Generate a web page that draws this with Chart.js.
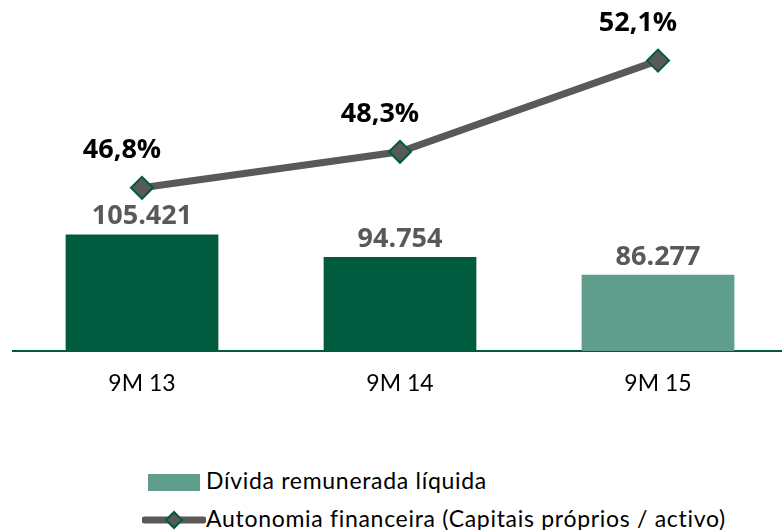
<!DOCTYPE html>
<html>
<head>
<meta charset="utf-8">
<script src="https://cdn.jsdelivr.net/npm/chart.js@4/dist/chart.umd.min.js"></script>
<style>
  html, body { margin: 0; padding: 0; background: #fff; overflow: hidden; }
  #wrap { position: relative; width: 782px; height: 530px; overflow: hidden; }
  #box { position: absolute; left: 0; top: 0; width: 800px; height: 405px; }
  .leg { position: absolute; font-family: Lato, "Liberation Sans", sans-serif; font-size: 23px; color: #000; letter-spacing: 0.7px; white-space: nowrap; }
</style>
</head>
<body>
<div id="wrap">
  <div id="box"><canvas id="chart"></canvas></div>
  <div class="leg" style="left:148px; top:466px;">
    <span style="display:inline-block; width:52px; height:17px; background:#5f9e8c; vertical-align:-2px;"></span><span style="margin-left:6px;">Dívida remunerada líquida</span>
  </div>
  <div class="leg" style="left:142px; top:504px;">
    <svg width="64" height="22" style="vertical-align:-4px;">
      <line x1="3" y1="11" x2="61" y2="11" stroke="#595959" stroke-width="7" stroke-linecap="round"/>
      <polygon points="32,3 40,11 32,19 24,11" fill="#595959" stroke="#005b3f" stroke-width="2"/>
    </svg><span>Autonomia financeira (Capitais próprios / activo)</span>
  </div>
</div>
<script>
const categories = ['9M 13', '9M 14', '9M 15'];
const debtValues = [105.421, 94.754, 86.277];
const debtLabels = ['105.421', '94.754', '86.277'];
const autonomyValues = [46.8, 48.3, 52.1];
const autonomyLabels = ['46,8%', '48,3%', '52,1%'];

const barColors = ['#005b3f', '#005b3f', '#5f9e8c'];

const labelPlugin = {
    id: 'valueLabels',
    afterDatasetsDraw(chart) {
        const ctx = chart.ctx;
        ctx.save();
        ctx.textAlign = 'center';
        ctx.textBaseline = 'middle';

        // bar values
        ctx.font = 'bold 27px "Open Sans", Lato, sans-serif';
        ctx.fillStyle = '#595959';
        chart.getDatasetMeta(1).data.forEach((bar, i) => {
            ctx.fillText(debtLabels[i], bar.x, bar.y - 18);
        });

        // line values
        ctx.fillStyle = '#000';
        chart.getDatasetMeta(0).data.forEach((pt, i) => {
            ctx.fillText(autonomyLabels[i], pt.x - 20, pt.y - 37);
        });
        ctx.restore();
    }
};

new Chart(document.getElementById('chart'), {
    data: {
        labels: categories,
        datasets: [
            {
                type: 'line',
                label: 'Autonomia financeira (Capitais próprios / activo)',
                data: autonomyValues,
                yAxisID: 'yLine',
                borderColor: '#595959',
                borderWidth: 7,
                pointStyle: 'rectRot',
                pointRadius: 11,
                pointBackgroundColor: '#595959',
                pointBorderColor: '#005b3f',
                pointBorderWidth: 2,
                tension: 0,
                order: 0
            },
            {
                type: 'bar',
                label: 'Dívida remunerada líquida',
                data: debtValues,
                yAxisID: 'yBar',
                backgroundColor: barColors,
                barPercentage: 0.592,
                categoryPercentage: 1,
                order: 1
            }
        ]
    },
    options: {
        responsive: true,
        maintainAspectRatio: false,
        animation: false,
        layout: { padding: { left: 10, right: 10, top: 15 } },
        plugins: {
            legend: { display: false },
            tooltip: { enabled: false }
        },
        scales: {
            x: {
                grid: { display: false },
                border: { display: true, color: '#005b3f', width: 2 },
                ticks: {
                    color: '#000',
                    padding: 11,
                    font: { family: 'Lato, "Liberation Sans", sans-serif', size: 23 }
                },
                afterFit(scale) { scale.height = 54; }
            },
            yBar: {
                display: false,
                min: 50,
                max: 210
            },
            yLine: {
                display: false,
                min: 40,
                max: 54
            }
        }
    },
    plugins: [labelPlugin]
});
</script>
</body>
</html>
